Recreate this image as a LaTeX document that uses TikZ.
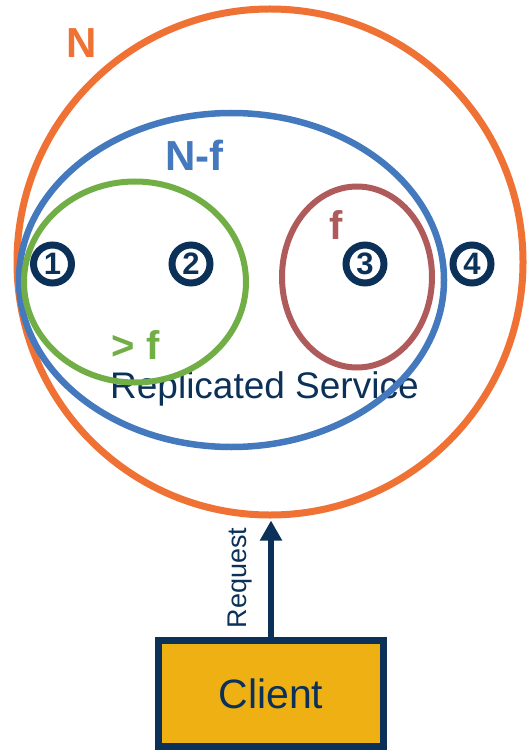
\documentclass[tikz,border=0pt]{standalone}
\usepackage{fontspec}
\setmainfont{Liberation Sans}
\usetikzlibrary{shapes.geometric,arrows.meta}
\definecolor{setorange}{HTML}{EF7234}
\definecolor{setblue}{HTML}{4479BE}
\definecolor{setgreen}{HTML}{71AE46}
\definecolor{setred}{HTML}{B05B5B}
\definecolor{navy}{HTML}{0B3159}
\definecolor{gold}{HTML}{EEB013}
\begin{document}
\begin{tikzpicture}[x=1pt,y=-1pt,
  region/.style={ellipse, draw, inner sep=0pt, line width=6pt},
  replica/.style={circle, draw=navy, line width=7pt, minimum size=38pt, inner sep=0pt,
    text=navy, font=\fontsize{31}{31}\selectfont\bfseries},
  tag/.style={inner sep=0pt, font=\fontsize{42}{42}\selectfont\bfseries},
  clientbox/.style={rectangle, draw=navy, fill=gold, line width=7pt, inner sep=0pt,
    minimum width=225pt, minimum height=106pt, text=navy, font=\fontsize{41}{41}\selectfont},
  request/.style={-{Triangle[length=20pt,width=21pt]}, draw=navy, line width=6.5pt}]
\useasboundingbox (0,0) rectangle (527,751);

% service label sits under the set outlines
\node[anchor=base west, inner sep=0pt, text=navy, font=\fontsize{37}{37}\selectfont]
  (svclabel) at (110,398) {Replicated Service};

% nested sets
\node[region, draw=setorange, line width=7pt, minimum width=506pt, minimum height=506pt] (all) at (270,262) {};
\node[region, draw=setblue, line width=6.5pt, minimum width=425pt, minimum height=334pt] (correct) at (231.5,280) {};
\node[region, draw=setgreen, minimum width=222pt, minimum height=201pt] (quorum) at (135,282) {};
\node[region, draw=setred, minimum width=150pt, minimum height=181pt] (faulty) at (357,277) {};

% set labels
\node[tag, text=setorange] (lblN) at (82,43.5) {N};
\node[tag, text=setblue] (lblNf) at (194.5,155.5) {N-f};
\node[tag, text=setred, font=\fontsize{40}{40}\selectfont\bfseries] (lblf) at (336,225.5) {f};
\node[tag, text=setgreen, font=\fontsize{40}{40}\selectfont\bfseries] (lblgf) at (135.5,345) {> f};

% replicas
\node[replica] (r1) at (52.5,264) {1};
\node[replica] (r2) at (191,264) {2};
\node[replica] (r3) at (365,264) {3};
\node[replica] (r4) at (472,264) {4};

% client and its request
\node[clientbox] (client) at (271,693.5) {Client};
\draw[request, shorten >=2pt] (client.north) -- (client.north |- all.south);
\node[rotate=90, inner sep=0pt, text=navy, font=\fontsize{27}{27}\selectfont]
  (reqlabel) at (240,578) {Request};
\end{tikzpicture}
\end{document}
